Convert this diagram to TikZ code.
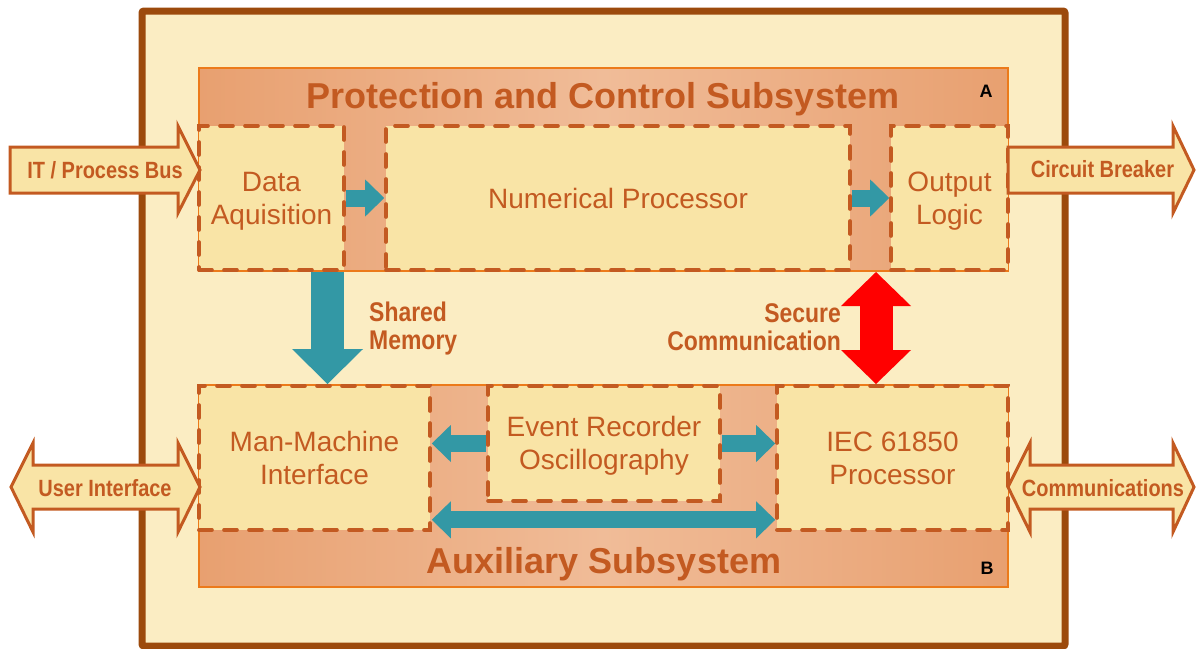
\documentclass[tikz,border=0pt]{standalone}
\usepackage{fontspec}
\setmainfont{Liberation Sans}
\newfontfamily\condfont[FakeStretch=0.85]{Liberation Sans}
\usetikzlibrary{arrows.meta,calc}
\definecolor{outerfill}{HTML}{FBEDC3}
\definecolor{outerline}{HTML}{9C4A0C}
\definecolor{subline}{HTML}{EC7A1A}
\definecolor{subL}{HTML}{E8A070}
\definecolor{subM}{HTML}{F0BC98}
\definecolor{boxfill}{HTML}{F9E4A6}
\definecolor{boxline}{HTML}{C35A21}
\definecolor{txt}{HTML}{C35A21}
\definecolor{tealc}{HTML}{3398A5}
\definecolor{redc}{HTML}{FF0000}
\newcommand\twoline[2]{\raisebox{0pt}[\height][\dimexpr\depth-6.5pt\relax]{\begin{tabular}{@{}c@{}}#1\\#2\end{tabular}}}
\begin{document}
\begin{tikzpicture}[x=1pt,y=-1pt,
  outerbox/.style={draw=outerline, line width=7pt, fill=outerfill, rounded corners=2pt},
  subsys/.style={draw=subline, line width=2pt, left color=subL, right color=subL, middle color=subM, inner sep=0pt},
  innerbox/.style={draw=boxline, line width=3.6pt, dash pattern=on 13pt off 12pt, line cap=round, fill=boxfill, inner sep=0pt, align=center, text=txt, font=\fontsize{28}{33}\selectfont},
  tarrow/.style={draw=tealc, line width=17pt, -{Triangle[width=37pt,length=19pt,line width=0pt]}},
  tdarrow/.style={draw=tealc, line width=17pt, {Triangle[width=37pt,length=19pt,line width=0pt]}-{Triangle[width=37pt,length=19pt,line width=0pt]}},
  bigarrow/.style={draw=tealc, line width=33pt, -{Triangle[width=71pt,length=35pt,line width=0pt]}},
  redarrow/.style={draw=redc, line width=33pt, {Triangle[width=70pt,length=34pt,line width=0pt]}-{Triangle[width=70pt,length=34pt,line width=0pt]}},
  titletext/.style={text=txt, inner sep=0pt, font=\bfseries\fontsize{36}{40}\selectfont},
  tag/.style={text=black, inner sep=0pt, font=\bfseries\fontsize{18}{20}\selectfont},
  lbl/.style={text=txt, inner sep=0pt, font=\condfont\bfseries\fontsize{27}{28}\selectfont},
  sidearrow/.style={draw=boxline, line width=3pt, fill=boxfill, line join=miter},
  sidetext/.style={text=txt, inner sep=0pt, font=\condfont\bfseries\fontsize{23.5}{26}\selectfont}
]
\useasboundingbox (0,0) rectangle (1196,648);
% outer device box
\draw[outerbox] (142,11) rectangle (1065,646);
% subsystems
\node[subsys, minimum width=809pt, minimum height=203pt] (A) at (603.5,169.5) {};
\node[subsys, minimum width=809pt, minimum height=202pt] (B) at (603.5,486) {};
% inner boxes of A
\node[innerbox, minimum width=145pt, minimum height=144pt] (da) at (271.5,198) {\twoline{Data}{Aquisition}};
\node[innerbox, minimum width=464pt, minimum height=144pt] (np) at (618,198) {Numerical Processor};
\node[innerbox, minimum width=117pt, minimum height=144pt] (ol) at (949.5,198) {\twoline{Output}{Logic}};
% inner boxes of B
\node[innerbox, minimum width=231pt, minimum height=144pt] (mmi) at (314.5,458) {\twoline{Man-Machine}{Interface}};
\node[innerbox, minimum width=232pt, minimum height=115pt] (er) at (604,443.5) {\twoline{Event Recorder}{Oscillography}};
\node[innerbox, minimum width=231pt, minimum height=144pt] (iec) at (892.5,458) {\twoline{IEC 61850}{Processor}};
% titles
\node[titletext, anchor=base] (tA) at (603,108) {Protection and Control Subsystem};
\node[titletext, anchor=base] (tB) at (604,573) {Auxiliary Subsystem};
\node[tag] (lA) at (986,91) {A};
\node[tag] (lB) at (987,568) {B};
% teal connectors
\draw[tarrow] (da.east) -- (np.west);
\draw[tarrow] (np.east) -- (ol.west);
\draw[tarrow] (er.west) -- (er.west -| mmi.east);
\draw[tarrow] (er.east) -- (er.east -| iec.west);
\draw[tdarrow] ($(mmi.south east)+(0,-12)$) -- ($(iec.south west)+(0,-12)$);
\draw[bigarrow] ($(A.south west)+(129.5,0)$) -- ($(B.north west)+(129.5,0)$);
\draw[redarrow] ($(A.south west)+(678,0)$) -- ($(B.north west)+(678,0)$);
\node[lbl, anchor=west, align=left] (sm) at (369,328.7) {Shared\\Memory};
\node[lbl, anchor=east, align=right] (sc) at (841,327) {Secure\\Communication};
% side block arrows
\draw[sidearrow] (10,147) -- (178,147) -- (178,126) -- (200,170) -- (178,213) -- (178,193) -- (10,193) -- cycle;
\node[sidetext, anchor=base] (itb) at (105,178) {IT / Process Bus};
\draw[sidearrow] (1008,147) -- (1173,147) -- (1173,126) -- (1194,170) -- (1173,213) -- (1173,193) -- (1008,193) -- cycle;
\node[sidetext, anchor=base] (cb) at (1102.5,177) {Circuit Breaker};
\draw[sidearrow] (11,487) -- (33,443) -- (33,465) -- (178,465) -- (178,443) -- (200,487) -- (178,532) -- (178,509) -- (33,509) -- (33,532) -- cycle;
\node[sidetext, anchor=base] (ui) at (105,496) {User Interface};
\draw[sidearrow] (1008,487) -- (1030,443) -- (1030,465) -- (1173,465) -- (1173,443) -- (1194,487) -- (1173,532) -- (1173,509) -- (1030,509) -- (1030,532) -- cycle;
\node[sidetext, anchor=base] (cm) at (1103,496) {Communications};
\end{tikzpicture}
\end{document}
